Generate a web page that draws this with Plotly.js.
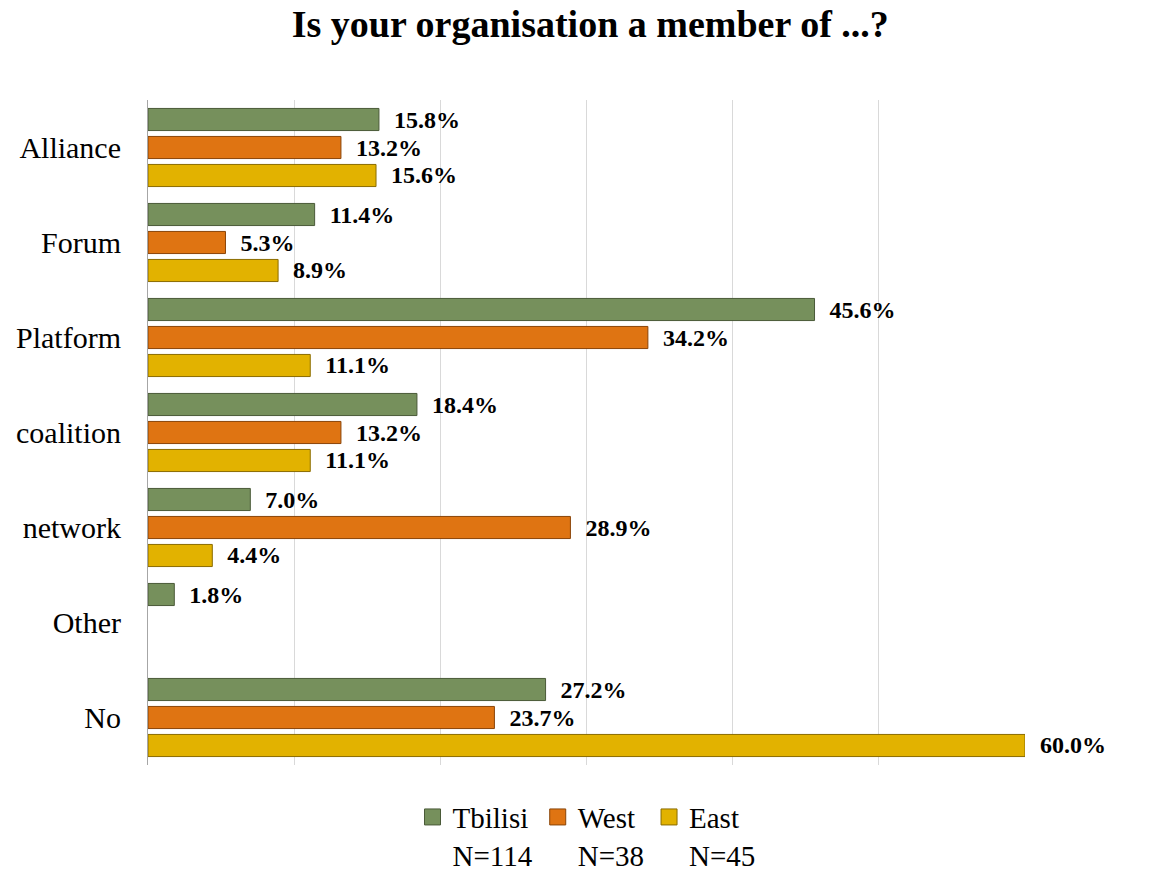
<!DOCTYPE html>
<html>
<head>
<meta charset="utf-8">
<script src="https://cdn.plot.ly/plotly-3.0.1.min.js"></script>
<style>html,body{margin:0;padding:0;background:#fff;}#chart{width:1162px;height:871px;}</style>
</head>
<body>
<div id="chart"></div>
<script>
const categories = ["Alliance", "Forum", "Platform", "coalition", "network", "Other", "No"];
const seriesNames = ["Tbilisi", "West", "East"];
const seriesN = ["N=114", "N=38", "N=45"];
const tbilisi = [15.8, 11.4, 45.6, 18.4, 7.0, 1.8, 27.2];
const west = [13.2, 5.3, 34.2, 13.2, 28.9, null, 23.7];
const east = [15.6, 8.9, 11.1, 11.1, 4.4, null, 60.0];

const colors = ["#76905c", "#df7412", "#e2b200"];
const lineColors = ["#4a5a38", "#8a4408", "#8a6c00"];
const values = [tbilisi, west, east];
const FONT = "Liberation Serif";

const traces = values.map((v, i) => ({
  type: "bar",
  orientation: "h",
  name: seriesNames[i],
  showlegend: false,
  y: categories,
  x: v,
  marker: {color: colors[i], line: {color: lineColors[i], width: 1}},
  text: v.map(d => d == null ? "" : d.toFixed(1) + "%"),
  texttemplate: "  %{text}",
  textposition: "outside",
  constraintext: "none",
  cliponaxis: false,
  textfont: {family: FONT, size: 24, color: "#000", weight: "bold"},
  hoverinfo: "x+y"
}));

// legend entries (square swatches)
values.forEach((v, i) => {
  traces.push({
    type: "scatter",
    mode: "markers",
    x: [null], y: [null],
    name: seriesNames[i] + "<br>" + seriesN[i],
    marker: {symbol: "square", size: 16, color: colors[i], line: {color: lineColors[i], width: 1}},
    showlegend: true,
    hoverinfo: "skip"
  });
});

const layout = {
  width: 1162, height: 871,
  paper_bgcolor: "#fff", plot_bgcolor: "#fff",
  margin: {l: 148, r: 137, t: 100, b: 106, autoexpand: false},
  title: {text: "<b>Is your organisation a member of ...?</b>", font: {family: FONT, size: 38, color: "#000"}, x: 0.508, xanchor: "center", y: 0.988, yanchor: "top"},
  barmode: "group",
  bargap: 0.116,
  bargroupgap: 0.21,
  xaxis: {range: [0, 60], dtick: 10, showgrid: true, gridcolor: "#d9d9d9", gridwidth: 1, showticklabels: false, zeroline: false, showline: false, ticks: ""},
  yaxis: {autorange: "reversed", showline: true, linecolor: "#a6a6a6", linewidth: 1, ticks: "", ticklabelstandoff: 20, tickfont: {family: FONT, size: 30, color: "#000"}, showgrid: false},
  legend: {orientation: "h", x: 0.5, xanchor: "center", y: -0.04, yanchor: "top", valign: "top", font: {family: FONT, size: 29, color: "#000"}, itemwidth: 30, traceorder: "normal"},
  showlegend: true
};

Plotly.newPlot("chart", traces, layout, {displayModeBar: false, staticPlot: true});
</script>
</body>
</html>
